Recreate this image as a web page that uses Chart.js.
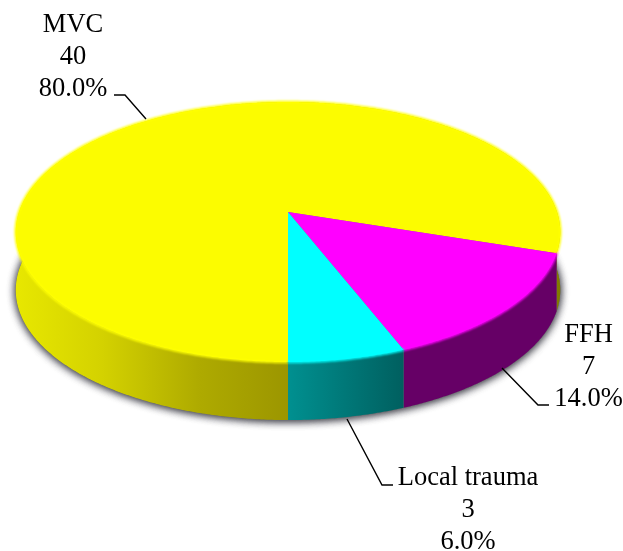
<!DOCTYPE html>
<html>
<head>
<meta charset="utf-8">
<title>Mechanism of injury</title>
<script src="https://cdn.jsdelivr.net/npm/chart.js@4/dist/chart.umd.min.js"></script>
<style>
  html, body { margin: 0; padding: 0; background: #fff; }
  #wrap { position: relative; width: 623px; height: 551px; }
</style>
</head>
<body>
<div id="wrap"><canvas id="pie"></canvas></div>
<script>
// --- data ---
const categories = ['MVC', 'FFH', 'Local trauma'];
const counts = [40, 7, 3];
const topColors = ['#fcfc00', '#ff00ff', '#00ffff'];

// --- look of the 3d disc ---
const sideStops = [
    [[0, '#e8e800'], [0.16, '#d4d200'], [0.34, '#aeaa00'], [0.5, '#9c9600'], [1, '#807a00']],
    [[0, '#660066'], [1, '#660066']],
    [[0, '#009090'], [1, '#006060']]
];
const sideRanges = [[14, 561], [288, 561], [288, 402]];
const discDepth = 58;
const apexShift = -63.5;   // apex sits above the canvas middle
const tiltA = 94.3;
const tiltC = -0.154;
const labelFont = '26.5px "Liberation Serif"';
const labelSpots = [
    { x: 73, y: 32, line: [[114, 95], [125, 95], [146, 119]] },
    { x: 588.5, y: 342, line: [[502, 368], [538, 405], [549, 405]] },
    { x: 468, y: 485, line: [[347, 419], [382, 485], [393, 485]] }
];

// circle point -> perspective point on the top face
function project(arc, angle, r) {
    const u = Math.cos(angle) * r;
    const v = Math.sin(angle) * r;
    const d = 1 + tiltC * v;
    const apexY = arc.y + apexShift;
    return {
        x: arc.x + arc.outerRadius * u / d,
        y: (apexY + tiltA * v) / d
    };
}

function outerPoints(arc) {
    const pts = [];
    const n = Math.ceil((arc.endAngle - arc.startAngle) * 120);
    for (let i = 0; i <= n; i++) {
        pts.push(project(arc, arc.startAngle + (arc.endAngle - arc.startAngle) * i / n, 1));
    }
    return pts;
}

const disc3d = {
    id: 'disc3d',
    beforeDatasetsDraw(chart) {
        const ctx = chart.ctx;
        const arcs = chart.getDatasetMeta(0).data;

        // soft shadow under the disc, twice so it reads on both flanks
        ctx.save();
        ctx.shadowColor = 'rgba(50,50,60,0.8)';
        ctx.shadowBlur = 8;
        ctx.shadowOffsetY = 1;
        ctx.fillStyle = '#777';
        for (let k = 0; k < 2; k++) {
            ctx.beginPath();
            arcs.forEach(arc => outerPoints(arc).forEach(p => ctx.lineTo(p.x, p.y + discDepth)));
            ctx.closePath();
            ctx.fill();
        }
        ctx.restore();

        // sides
        arcs.forEach((arc, i) => {
            const pts = outerPoints(arc);
            const grad = ctx.createLinearGradient(sideRanges[i][0], 0, sideRanges[i][1], 0);
            sideStops[i].forEach(s => grad.addColorStop(s[0], s[1]));
            ctx.fillStyle = grad;
            ctx.beginPath();
            pts.forEach(p => ctx.lineTo(p.x, p.y));
            pts.slice().reverse().forEach(p => ctx.lineTo(p.x, p.y + discDepth));
            ctx.closePath();
            ctx.fill();
        });

        // top faces
        arcs.forEach(arc => {
            const apex = project(arc, 0, 0);
            ctx.fillStyle = arc.options.backgroundColor;
            ctx.beginPath();
            ctx.moveTo(apex.x, apex.y);
            outerPoints(arc).forEach(p => ctx.lineTo(p.x, p.y));
            ctx.closePath();
            ctx.fill();
        });

        // blurred rim along the front edge
        ctx.save();
        ctx.filter = 'blur(1.2px)';
        ctx.lineWidth = 2.5;
        arcs.forEach(arc => {
            ctx.strokeStyle = arc.options.backgroundColor === '#fcfc00' ? '#ffff00' : arc.options.backgroundColor;
            ctx.beginPath();
            outerPoints(arc).forEach(p => ctx.lineTo(p.x, p.y));
            ctx.stroke();
        });
        ctx.restore();

        return false;   // the flat pie is replaced by the disc above
    },
    afterDraw(chart) {
        const ctx = chart.ctx;
        const total = counts.reduce((a, b) => a + b, 0);
        ctx.save();
        ctx.font = labelFont;
        ctx.fillStyle = '#000';
        ctx.textAlign = 'center';
        ctx.textBaseline = 'alphabetic';
        categories.forEach((name, i) => {
            const spot = labelSpots[i];
            const rows = [name, String(counts[i]), (counts[i] / total * 100).toFixed(1) + '%'];
            rows.forEach((row, r) => ctx.fillText(row, spot.x, spot.y + r * 32));

            ctx.strokeStyle = '#000';
            ctx.lineWidth = 1.4;
            ctx.beginPath();
            spot.line.forEach(p => ctx.lineTo(p[0], p[1]));
            ctx.stroke();
        });
        ctx.restore();
    }
};

new Chart(document.getElementById('pie'), {
    type: 'pie',
    data: {
        labels: categories,
        datasets: [{ data: counts, backgroundColor: topColors, borderWidth: 0 }]
    },
    options: {
        responsive: true,
        maintainAspectRatio: false,
        animation: false,
        rotation: 180,
        layout: { padding: { left: 19, right: 66, top: 0, bottom: 0 } },
        plugins: { legend: { display: false }, tooltip: { enabled: false } }
    },
    plugins: [disc3d]
});
</script>
</body>
</html>
